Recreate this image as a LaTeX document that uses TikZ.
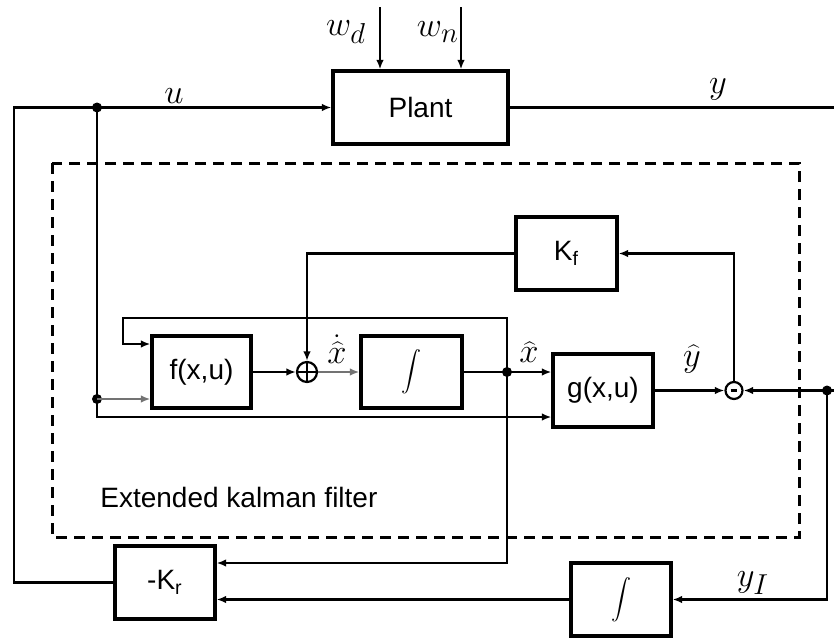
\documentclass[tikz,border=0pt]{standalone}
\usepackage{fontspec}
\setmainfont{Liberation Sans}
\usetikzlibrary{arrows.meta}
\begin{document}
\begin{tikzpicture}[x=0.5pt,y=-0.5pt,
  blk/.style={draw, line width=1.6pt, inner sep=0pt, minimum width=50pt, minimum height=36.5pt, font=\fontsize{14}{16}\selectfont},
  conn/.style={line width=1.1pt, -{Latex[length=4.8pt,width=3.8pt]}},
  wire/.style={line width=1.1pt},
  lite/.style={draw=black!55},
  lbl/.style={font=\fontsize{19}{22}\selectfont, inner sep=0pt},
  jdot/.style={circle, fill, inner sep=0pt, minimum size=5pt},
  ekf/.style={line width=1.5pt, dash pattern=on 5.5pt off 3.5pt},
  txt/.style={font=\fontsize{14}{16}\selectfont, inner sep=0pt},
  intg/.style={font=\fontsize{13}{16}\selectfont}
]
\useasboundingbox (0,0) rectangle (834,637);

% dashed frame of the filter
\draw[ekf] (52,163) rectangle (799,537);
\node[txt, anchor=west] (ekft) at (100,497) {Extended kalman filter};

% blocks
\node[blk, minimum width=87.5pt] (plant) at (420.5,107.5) {Plant};
\node[blk, minimum width=49.5pt, minimum height=36pt] (f) at (201.5,372) {f(x,u)};
\node[blk, minimum width=50.5pt, minimum height=36pt, intg] (int1) at (411.5,372) {$\displaystyle\int$};
\node[blk] (g) at (603,390.5) {g(x,u)};
\node[blk, minimum width=50.5pt] (kf) at (566.5,253.5) {K\textsubscript{f}};
\node[blk] (kr) at (165,582.5) {-K\textsubscript{r}};
\node[blk, intg] (int2) at (621,599.5) {$\displaystyle\int$};

% summing junctions
\node[circle, draw, line width=1.1pt, inner sep=0pt, minimum size=10pt] (sum) at (307,372) {};
\draw[line width=0.9pt] (sum.north) -- (sum.south) (sum.west) -- (sum.east);
\node[circle, draw, line width=1.1pt, inner sep=0pt, minimum size=8.5pt] (minus) at (734,390.5) {};
\draw[line width=1.4pt] ([xshift=-1.6pt]minus.center) -- ([xshift=1.6pt]minus.center);

% coordinates
\coordinate (uL) at (14,107.5);
\coordinate (krL) at (14,582.5);
\coordinate (uB) at (97,417);
\coordinate (xT) at (507,318);
\coordinate (fbL) at (123,318);
\coordinate (fbD) at (123,344);
\coordinate (xB) at (507,563);
\coordinate (kfC) at (307,253.5);
\coordinate (mT) at (734,253.5);
\coordinate (yR) at (834,390.5);
\coordinate (yD) at (827,599.5);
\coordinate (yOut) at (834,107.5);
\coordinate (wd0) at (380,7);
\coordinate (wn0) at (461,7);

% junction dots
\node[jdot] (uJ) at (97,107.5) {};
\node[jdot] (uJ2) at (97,399) {};
\node[jdot] (xJ) at (507,372) {};
\node[jdot] (yJ) at (827,390.5) {};

% connectors
\draw[conn] (wd0) -- (wd0 |- plant.north);
\draw[conn] (wn0) -- (wn0 |- plant.north);
\draw[conn] (kr.west) -- (krL) -- (uL) -- (plant.west);
\draw[wire] (plant.east) -- (yOut);
\draw[conn] (uJ.center) -- (uB) -- (uB -| g.west);
\draw[conn, lite] (uJ2.center) -- (uJ2 -| f.west);
\draw[conn] (f) -- (sum);
\draw[conn, lite] (sum) -- (int1);
\draw[wire] (int1) -- (xJ.center);
\draw[conn] (xJ.center) -- (xJ -| g.west);
\draw[conn] (xJ.center) -- (xT) -- (fbL) -- (fbD) -- (fbD -| f.west);
\draw[conn] (xJ.center) -- (xB) -- (xB -| kr.east);
\draw[conn] (kf) -- (kfC) -- (sum);
\draw[conn] (g) -- (minus);
\draw[conn] (minus) -- (mT) -- (kf);
\draw[conn] (yR) -- (yJ.center) -- (minus);
\draw[conn] (yJ.center) -- (yD) -- (int2);
\draw[conn] (int2) -- (int2 -| kr.east);

% labels
\node[lbl] (lwd) at (346,32) {$w_d$};
\node[lbl] (lwn) at (438,32) {$w_n$};
\node[lbl] (lu) at (174,96) {$u$};
\node[lbl] (ly) at (718,89) {$y$};
\node[lbl] (lxd) at (337,349) {$\dot{\widehat{x}}$};
\node[lbl] (lx) at (529,352) {$\widehat{x}$};
\node[lbl] (lyh) at (692,359) {$\widehat{y}$};
\node[lbl] (lyi) at (753,583) {$y_I$};
\end{tikzpicture}
\end{document}
